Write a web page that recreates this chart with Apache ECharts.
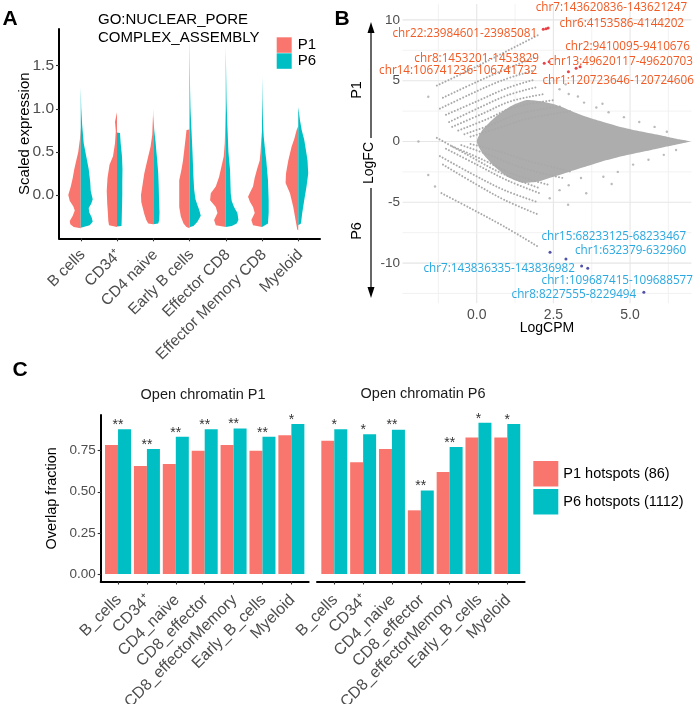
<!DOCTYPE html>
<html><head><meta charset="utf-8">
<script src="https://cdn.jsdelivr.net/npm/echarts@6/dist/echarts.min.js"></script>
<style>html,body{margin:0;padding:0;background:#fff}#c{width:700px;height:704px}</style>
</head><body><div id="c"></div>
<script>
// ================= Panel A : split violins =================
const violinCategories = ['B cells', 'CD34\u207A', 'CD4 naive', 'Early B cells', 'Effector CD8', 'Effector Memory CD8', 'Myeloid'];
const violinTicks = [0, 0.5, 1, 1.5];
// scaled-expression levels and relative densities
const p1Levels = [
  [0.78,0.65,0.5,0.4,0.3,0.2,0.1,0.0,-0.07,-0.13,-0.18,-0.24,-0.3,-0.34,-0.37,-0.385],
  [0.96,0.85,0.74,0.6,0.45,0.35,0.2,0.05,-0.1,-0.2,-0.3,-0.35,-0.37],
  [1.0,0.85,0.7,0.56,0.45,0.35,0.25,0.1,0.0,-0.08,-0.15,-0.22,-0.29,-0.33,-0.34],
  [0.76,0.755,0.65,0.52,0.4,0.3,0.17,0.06,-0.05,-0.14,-0.25,-0.33,-0.37,-0.385],
  [1.0,0.8,0.6,0.45,0.37,0.21,0.1,0.02,-0.06,-0.14,-0.21,-0.29,-0.35,-0.37],
  [0.75,0.64,0.5,0.4,0.3,0.2,0.1,0.03,-0.02,-0.08,-0.14,-0.21,-0.29,-0.35,-0.37],
  [0.8,0.75,0.65,0.56,0.4,0.25,0.14,0.02,-0.14,-0.29,-0.4,-0.41]
];
const p1Density = [
  [0,0.8,2.5,4.5,6.5,8,10,12.5,11,7.5,6,8,11,10.5,7,0],
  [0,2,1.2,2,4,7.5,9.5,10.3,9.8,9.2,8.7,8,0],
  [0,0.5,1,2.7,5,7,9,11,12.3,12,10.5,9,7,5,0],
  [0,3,4,5.3,6.5,8,10.3,10.3,10.3,10.3,8.7,6,3,0],
  [0,0.5,1,2,3.5,6.7,10,15,15.7,10,8.3,11.7,10,0],
  [0,0.7,1.5,2.3,5,7.3,9,12,14,12,9,7.3,10.7,9,0],
  [0,1.7,4,6.7,10,12.3,12.7,8.3,5,2.7,1,0]
];
const p6Levels = [
  [1.25,1.0,0.8,0.6,0.45,0.3,0.15,0.05,-0.05,-0.1,-0.15,-0.2,-0.26,-0.31,-0.35,-0.38],
  [0.725,0.72,0.6,0.45,0.3,0.15,0.0,-0.15,-0.3,-0.36,-0.365],
  [0.92,0.75,0.62,0.5,0.4,0.25,0.1,-0.05,-0.2,-0.29,-0.33,-0.34],
  [1.85,1.5,1.2,1.0,0.75,0.5,0.2,0.06,-0.05,-0.12,-0.17,-0.24,-0.31,-0.36,-0.375],
  [1.72,1.4,1.1,0.85,0.5,0.29,0.1,0.02,-0.07,-0.14,-0.21,-0.29,-0.33,-0.36,-0.37],
  [1.38,1.1,0.85,0.68,0.5,0.4,0.17,-0.06,-0.21,-0.33,-0.37],
  [1.02,0.87,0.75,0.64,0.5,0.4,0.25,0.1,-0.06,-0.21,-0.33,-0.35]
];
const p6Density = [
  [0,0.5,1.5,3,5.5,8,9.5,10,12,10.5,8,8.5,11,12,9,0],
  [0,3,3.7,5,5.5,5.3,5.3,5,4.7,4.5,0],
  [0,1,2.3,3.2,4,5,5.5,5.8,6.3,6,5,0],
  [0,0.3,0.6,1,2,3,4,4.7,6,8,9.7,11.3,8,4,0],
  [0,0.4,0.8,1.5,2.7,4.3,4.8,5,6,8.3,11.7,12.7,11,6,0],
  [0,0.4,1,1.7,3.3,4.3,6,6.7,6.7,6,0],
  [0,1.7,3.5,6,8,9.3,10,8.3,6,4,2.7,0]
];

// ================= Panel B : MA plot =================
const maTicksX = [0, 2.5, 5];
const maTicksY = [-10, -5, 0, 5, 10];
const maGridX = [-1.25, 0, 1.25, 2.5, 3.75, 5, 6.25];
const maGridY = [-12.5, -10, -7.5, -5, -2.5, 0, 2.5, 5, 7.5, 10];
// outline of the dense cloud of regions [LogCPM, LogFC]
const maCore = [[0.0,0],[0.2,1.0],[0.6,2.0],[1.1,2.9],[1.6,3.4],[2.1,3.3],[2.6,3.0],[3.0,2.6],[3.5,2.1],[4.0,1.7],[4.6,1.25],[5.2,0.9],[5.7,0.65],[6.2,0.4],[6.6,0.18],[6.95,0],[6.6,-0.2],[6.2,-0.42],[5.7,-0.7],[5.2,-0.95],[4.6,-1.3],[4.0,-1.7],[3.5,-2.1],[3.0,-2.5],[2.5,-2.9],[2.0,-3.3],[1.5,-3.4],[1.0,-2.9],[0.6,-2.1],[0.2,-1.0]];
// low-count streaks of regions
const maStreaks = [
  [[-1.3,4.6],[-0.3,5.8],[0.8,7.2],[2.0,8.75]],
  [[-1.1,3.6],[0.0,4.9],[1.0,6.0],[1.9,6.9]],
  [[-1.2,2.7],[-0.2,3.9],[0.8,5.0],[1.8,5.8]],
  [[-1.0,2.2],[0.0,3.3],[1.0,4.4],[1.9,5.1]],
  [[-0.9,1.6],[0.1,2.8],[1.0,3.8],[2.0,4.5]],
  [[-0.8,1.2],[0.2,2.3],[1.1,3.3],[2.2,3.9]],
  [[-0.6,0.9],[0.3,1.8],[1.2,2.8],[2.5,3.4]],
  [[-0.4,0.6],[0.5,1.4],[1.4,2.3],[2.8,2.9]],
  [[-0.2,0.4],[0.7,1.1],[1.7,1.9],[3.1,2.5]],
  [[-1.15,-4.25],[-0.2,-5.5],[0.9,-7.0],[2.0,-8.65]],
  [[-1.1,-1.9],[-0.1,-3.4],[0.9,-4.8],[2.0,-6.0]],
  [[-1.2,-1.2],[-0.2,-2.6],[0.9,-4.0],[2.0,-5.0]],
  [[-1.3,0.3],[-0.3,-1.1],[0.8,-2.6],[2.0,-3.8]],
  [[-1.0,-0.6],[0.0,-1.9],[1.0,-3.2],[2.1,-4.3]],
  [[-0.8,-0.4],[0.2,-1.5],[1.2,-2.7],[2.4,-3.6]],
  [[-0.5,-0.3],[0.4,-1.1],[1.4,-2.1],[2.8,-3.0]],
  [[-0.2,-0.2],[0.7,-0.8],[1.7,-1.6],[3.1,-2.5]]
];
const maScatter = [[2.38,4.8],[2.7,4.3],[3.0,3.9],[3.5,3.2],[3.9,2.8],[4.3,2.4],[4.8,2.0],[5.3,1.6],[5.8,1.2],[2.9,4.7],[3.3,3.7],[4.1,3.1],[6.2,0.8],
  [2.38,-4.67],[2.98,-5.2],[3.57,-4.26],[4.13,-2.9],[3.0,-3.6],[3.4,-3.0],[4.6,-2.5],[5.1,-1.9],[5.6,-1.5],[6.1,-1.1],[2.7,-4.0],[4.4,-3.5],[6.5,-0.7],
  [-1.9,0.0],[-1.58,3.68],[-1.58,-2.75],[-1.36,-3.7]];
const p1Hits = [[2.17,9.23],[2.33,9.33],[2.26,9.28],[2.2,6.43],[2.36,6.56],[2.99,5.74],[3.24,6.02],[3.37,6.15]];
const p1HitLabels = ['chr7:143620836-143621247','chr6:4153586-4144202','chr22:23984601-23985081','chr2:9410095-9410676','chr8:1453201-1453829','chr13:49620117-49620703','chr14:106741236-106741732','chr1:120723646-120724606'];
const p1LabelAnchors = [[6.86,11.04],[6.76,9.72],[1.97,8.9],[6.95,7.8],[2.03,6.84],[7.05,6.56],[1.97,5.82],[7.08,4.98]];
const p6Hits = [[2.39,-9.11],[2.91,-9.66],[3.42,-10.24],[3.62,-10.43],[5.45,-12.4]];
const p6HitLabels = ['chr15:68233125-68233467','chr1:632379-632960','chr7:143836335-143836982','chr1:109687415-109688577','chr8:8227555-8229494'];
const p6LabelAnchors = [[6.83,-7.83],[6.83,-9.0],[3.2,-10.43],[7.05,-11.45],[5.2,-12.62]];

// ================= Panel C : overlap bars =================
const overlapCategories = ['B_cells', 'CD34\u207A', 'CD4_naive', 'CD8_effector', 'CD8_effectorMemory', 'Early_B_cells', 'Myeloid'];
const overlapTicks = [0, 0.25, 0.5, 0.75];
const facetP1_P1hot = [0.785, 0.656, 0.669, 0.75, 0.785, 0.75, 0.844];
const facetP1_P6hot = [0.88, 0.76, 0.835, 0.88, 0.885, 0.835, 0.913];
const facetP1_stars = ['**', '**', '**', '**', '**', '**', '*'];
const facetP6_P1hot = [0.81, 0.68, 0.76, 0.387, 0.62, 0.83, 0.83];
const facetP6_P6hot = [0.88, 0.85, 0.878, 0.508, 0.772, 0.92, 0.913];
const facetP6_stars = ['*', '*', '**', '**', '**', '*', '*'];

// ================= styling =================
const RED = '#F8766D', TEAL = '#00BFC4';
const FONT = '"Liberation Sans", Arial, sans-serif';
const GRAY_TXT = '#4d4d4d';
const pos = [1,2,3,4,5,6,7];
const A_YMIN = -0.502, A_YMAX = 1.925, C_YMIN = -0.046, C_YMAX = 0.967;

function violinRender(levels, dens, side) {
  return function (params, api) {
    const i = params.dataIndex;
    const cx = api.coord([api.value(0), 0])[0];
    const k = api.size([1, 0])[0] * 0.44 / 16;
    const L = levels[i], D = dens[i];
    const pts = L.map((v, j) => [cx + side * D[j] * k, api.coord([1, v])[1]]);
    pts.push([cx, api.coord([1, L[L.length - 1]])[1]]);
    pts.push([cx, api.coord([1, L[0]])[1]]);
    return { type: 'polygon', shape: { points: pts }, style: { fill: api.visual('color') } };
  };
}
function starRender(stars) {
  return function (params, api) {
    const p = api.coord([api.value(0), api.value(1)]);
    return { type: 'text', x: p[0], y: p[1] - 4,
      style: { text: stars[params.dataIndex], fill: '#333', font: '14px ' + FONT,
        align: 'center', textAlign: 'center', verticalAlign: 'middle', textVerticalAlign: 'middle' } };
  };
}
function labelRender(texts, color) {
  return function (params, api) {
    const p = api.coord([api.value(0), api.value(1)]);
    return { type: 'text', x: p[0], y: p[1],
      style: { text: texts[params.dataIndex], fill: color, font: '11.7px "Open Sans", sans-serif',
        align: 'right', textAlign: 'right', verticalAlign: 'middle', textVerticalAlign: 'middle' } };
  };
}
// rotated category labels (45°, right end at the tick)
function tickLabelRender(names, dx, dy, size) {
  return function (params, api) {
    const p = api.coord([api.value(0), api.value(1)]);
    return { type: 'text', x: p[0] + dx, y: p[1] + dy, rotation: Math.PI / 4,
      style: { text: names[params.dataIndex], fill: GRAY_TXT, font: size + 'px ' + FONT,
        align: 'right', textAlign: 'right', verticalAlign: 'middle', textVerticalAlign: 'middle' } };
  };
}
function catAxis(gridIndex) {
  return {
    type: 'value', gridIndex, min: 0.4, max: 7.6,
    axisLine: { show: true, onZero: false, lineStyle: { color: '#000', width: 2 } },
    axisTick: { show: true, customValues: pos, length: 3, lineStyle: { color: '#333', width: 1.1 } },
    axisLabel: { show: false },
    splitLine: { show: false }
  };
}

const chart = echarts.init(document.getElementById('c'), null, { renderer: 'canvas' });
chart.setOption({
  animation: false,
  backgroundColor: '#fff',
  textStyle: { fontFamily: FONT },
  grid: [
    { left: 59, top: 29, width: 261, height: 209.3 },
    { left: 402.5, top: 4.1, width: 288.9, height: 299.1 },
    { left: 100.7, top: 415, width: 208, height: 166.5 },
    { left: 317, top: 415, width: 207.6, height: 166.5 }
  ],
  xAxis: [
    catAxis(0),
    { type: 'value', gridIndex: 1, min: -2.42, max: 7.0,
      axisLine: { show: false, onZero: false }, axisTick: { show: false }, splitLine: { show: false },
      axisLabel: { customValues: maTicksX, formatter: v => v.toFixed(1), fontSize: 14, color: GRAY_TXT, margin: 5 },
      name: 'LogCPM', nameLocation: 'middle', nameGap: 18, nameMoveOverlap: false, nameTextStyle: { fontSize: 14, color: '#000' } },
    catAxis(2),
    catAxis(3)
  ],
  yAxis: [
    { type: 'value', gridIndex: 0, min: A_YMIN, max: A_YMAX,
      axisLine: { show: true, onZero: false, lineStyle: { color: '#000', width: 2 } },
      axisTick: { show: true, customValues: violinTicks, length: 3, lineStyle: { color: '#333', width: 1.1 } },
      axisLabel: { customValues: violinTicks, formatter: v => v.toFixed(1), fontSize: 15.5, color: GRAY_TXT, margin: 5 },
      splitLine: { show: false },
      name: 'Scaled expression', nameLocation: 'middle', nameGap: 27, nameMoveOverlap: false, nameTextStyle: { fontSize: 15, color: '#000' } },
    { type: 'value', gridIndex: 1, min: -13.3, max: 11.3,
      axisLine: { show: false, onZero: false }, axisTick: { show: false }, splitLine: { show: false },
      axisLabel: { customValues: maTicksY, fontSize: 13.5, color: GRAY_TXT, margin: 2.5 } },
    { type: 'value', gridIndex: 2, min: C_YMIN, max: C_YMAX,
      axisLine: { show: true, onZero: false, lineStyle: { color: '#000', width: 2 } },
      axisTick: { show: true, customValues: overlapTicks, length: 3, lineStyle: { color: '#333', width: 1.1 } },
      axisLabel: { customValues: overlapTicks, formatter: v => v.toFixed(2), fontSize: 13.5, color: GRAY_TXT, margin: 5 },
      splitLine: { show: false },
      name: 'Overlap fraction', nameLocation: 'middle', nameGap: 41, nameMoveOverlap: false, nameTextStyle: { fontSize: 14.5, color: '#000' } },
    { type: 'value', gridIndex: 3, min: C_YMIN, max: C_YMAX, show: false, axisLine: { onZero: false } }
  ],
  legend: [
    { data: ['P1', 'P6'], orient: 'vertical', left: 276.7, top: 37.3, itemWidth: 15, itemHeight: 15.5, itemGap: 0.5,
      padding: 0, icon: 'rect', selectedMode: false, textStyle: { fontSize: 15, color: '#000', padding: [0, 0, 0, 1] } },
    { data: ['P1 hotspots (86)', 'P6 hotspots (1112)'], orient: 'vertical', left: 533.3, top: 461, itemWidth: 25, itemHeight: 25.5,
      itemGap: 2.5, padding: 0, icon: 'rect', selectedMode: false, textStyle: { fontSize: 14.5, color: '#000' } }
  ],
  series: [
    // ---- A
    { type: 'custom', name: 'P1', xAxisIndex: 0, yAxisIndex: 0, itemStyle: { color: RED },
      data: pos.map(p => [p, 0]), encode: { x: 0, y: 1 }, renderItem: violinRender(p1Levels, p1Density, -1) },
    { type: 'custom', name: 'P6', xAxisIndex: 0, yAxisIndex: 0, itemStyle: { color: TEAL },
      data: pos.map(p => [p, 0]), encode: { x: 0, y: 1 }, renderItem: violinRender(p6Levels, p6Density, 1) },
    { type: 'custom', xAxisIndex: 0, yAxisIndex: 0, silent: true, clip: false,
      data: pos.map(p => [p, A_YMIN]), encode: { x: 0, y: 1 }, renderItem: tickLabelRender(violinCategories, 2, 14, 15.5) },
    // ---- B grid lines
    { type: 'custom', xAxisIndex: 1, yAxisIndex: 1, z: 0, silent: true, clip: false,
      data: maGridX.map(v => [v, 0]), encode: { x: 0, y: 1 },
      renderItem: (params, api) => {
        const x = api.coord([api.value(0), 0])[0]; const cs = params.coordSys;
        const major = maTicksX.indexOf(api.value(0)) >= 0;
        return { type: 'line', shape: { x1: x, y1: cs.y, x2: x, y2: cs.y + cs.height },
          style: { stroke: major ? '#e6e6e6' : '#efefef', lineWidth: major ? 1.1 : 0.8 } };
      } },
    { type: 'custom', xAxisIndex: 1, yAxisIndex: 1, z: 0, silent: true, clip: false,
      data: maGridY.map(v => [0, v]), encode: { x: 0, y: 1 },
      renderItem: (params, api) => {
        const y = api.coord([0, api.value(1)])[1]; const cs = params.coordSys;
        const major = maTicksY.indexOf(api.value(1)) >= 0;
        return { type: 'line', shape: { x1: cs.x, y1: y, x2: cs.x + cs.width, y2: y },
          style: { stroke: major ? '#e6e6e6' : '#efefef', lineWidth: major ? 1.1 : 0.8 } };
      } },
    // ---- B dense cloud
    { type: 'custom', xAxisIndex: 1, yAxisIndex: 1, z: 1, silent: true,
      data: [[0, 0]], encode: { x: 0, y: 1 },
      renderItem: (params, api) => ({ type: 'polygon', shape: { points: maCore.map(p => api.coord(p)), smooth: 0.2 },
        style: { fill: '#adadad' } }) },
    // ---- B streaks
    { type: 'custom', xAxisIndex: 1, yAxisIndex: 1, z: 1, silent: true,
      data: maStreaks.map(s => s[0]), encode: { x: 0, y: 1 },
      renderItem: (params, api) => ({ type: 'polyline',
        shape: { points: maStreaks[params.dataIndex].map(p => api.coord(p)), smooth: 0.35 },
        style: { stroke: '#a9a9a9', lineWidth: 2, lineDash: [0.01, 3.2], lineCap: 'round', fill: null } }) },
    { type: 'scatter', xAxisIndex: 1, yAxisIndex: 1, z: 2, silent: true, symbolSize: 2.4,
      itemStyle: { color: '#a9a9a9' }, data: maScatter },
    { type: 'scatter', xAxisIndex: 1, yAxisIndex: 1, z: 3, silent: true, symbolSize: 3,
      itemStyle: { color: '#e3141b' }, data: p1Hits },
    { type: 'scatter', xAxisIndex: 1, yAxisIndex: 1, z: 3, silent: true, symbolSize: 3,
      itemStyle: { color: '#262694' }, data: p6Hits },
    { type: 'custom', xAxisIndex: 1, yAxisIndex: 1, z: 4, silent: true, clip: false,
      data: p1LabelAnchors, encode: { x: 0, y: 1 }, renderItem: labelRender(p1HitLabels, '#F15A24') },
    { type: 'custom', xAxisIndex: 1, yAxisIndex: 1, z: 4, silent: true, clip: false,
      data: p6LabelAnchors, encode: { x: 0, y: 1 }, renderItem: labelRender(p6HitLabels, '#29A8E0') },
    // ---- C bars
    { type: 'bar', name: 'P1 hotspots (86)', xAxisIndex: 2, yAxisIndex: 2, barGap: '0%', barCategoryGap: '10%',
      itemStyle: { color: RED }, data: facetP1_P1hot.map((v, i) => [pos[i], v]) },
    { type: 'bar', name: 'P6 hotspots (1112)', xAxisIndex: 2, yAxisIndex: 2, barGap: '0%', barCategoryGap: '10%',
      itemStyle: { color: TEAL }, data: facetP1_P6hot.map((v, i) => [pos[i], v]) },
    { type: 'bar', name: 'P1 hotspots (86)', xAxisIndex: 3, yAxisIndex: 3, barGap: '0%', barCategoryGap: '10%',
      itemStyle: { color: RED }, data: facetP6_P1hot.map((v, i) => [pos[i], v]) },
    { type: 'bar', name: 'P6 hotspots (1112)', xAxisIndex: 3, yAxisIndex: 3, barGap: '0%', barCategoryGap: '10%',
      itemStyle: { color: TEAL }, data: facetP6_P6hot.map((v, i) => [pos[i], v]) },
    { type: 'custom', xAxisIndex: 2, yAxisIndex: 2, z: 5, silent: true, clip: false,
      data: facetP1_P1hot.map((v, i) => [pos[i], Math.max(v, facetP1_P6hot[i])]), encode: { x: 0, y: 1 },
      renderItem: starRender(facetP1_stars) },
    { type: 'custom', xAxisIndex: 3, yAxisIndex: 3, z: 5, silent: true, clip: false,
      data: facetP6_P1hot.map((v, i) => [pos[i], Math.max(v, facetP6_P6hot[i])]), encode: { x: 0, y: 1 },
      renderItem: starRender(facetP6_stars) },
    { type: 'custom', xAxisIndex: 2, yAxisIndex: 2, silent: true, clip: false,
      data: pos.map(p => [p, C_YMIN]), encode: { x: 0, y: 1 }, renderItem: tickLabelRender(overlapCategories, 1, 16, 16) },
    { type: 'custom', xAxisIndex: 3, yAxisIndex: 3, silent: true, clip: false,
      data: pos.map(p => [p, C_YMIN]), encode: { x: 0, y: 1 }, renderItem: tickLabelRender(overlapCategories, 1, 16, 16) }
  ],
  graphic: { elements: [
    { type: 'text', x: 10, y: 19.5, style: { text: 'A', font: 'bold 21px ' + FONT, fill: '#000', align: 'center', verticalAlign: 'middle' } },
    { type: 'text', x: 342, y: 19.5, style: { text: 'B', font: 'bold 21px ' + FONT, fill: '#000', align: 'center', verticalAlign: 'middle' } },
    { type: 'text', x: 20, y: 370.5, style: { text: 'C', font: 'bold 21px ' + FONT, fill: '#000', align: 'center', verticalAlign: 'middle' } },
    { type: 'text', x: 98, y: 20, style: { text: 'GO:NUCLEAR_PORE', font: '15px ' + FONT, fill: '#000', align: 'left', verticalAlign: 'middle' } },
    { type: 'text', x: 98, y: 38.3, style: { text: 'COMPLEX_ASSEMBLY', font: '15px ' + FONT, fill: '#000', align: 'left', verticalAlign: 'middle' } },
    { type: 'text', x: 203, y: 395, style: { text: 'Open chromatin P1', font: '14.5px ' + FONT, fill: '#1a1a1a', align: 'center', verticalAlign: 'middle' } },
    { type: 'text', x: 423, y: 393.5, style: { text: 'Open chromatin P6', font: '14.5px ' + FONT, fill: '#1a1a1a', align: 'center', verticalAlign: 'middle' } },
    { type: 'text', x: 369, y: 163, rotation: Math.PI / 2, style: { text: 'LogFC', font: '14px ' + FONT, fill: '#000', align: 'center', verticalAlign: 'middle' } },
    { type: 'text', x: 357, y: 90, rotation: Math.PI / 2, style: { text: 'P1', font: '14.5px ' + FONT, fill: '#000', align: 'center', verticalAlign: 'middle' } },
    { type: 'text', x: 357, y: 231, rotation: Math.PI / 2, style: { text: 'P6', font: '14.5px ' + FONT, fill: '#000', align: 'center', verticalAlign: 'middle' } },
    { type: 'line', shape: { x1: 371, y1: 138, x2: 371, y2: 30 }, style: { stroke: '#000', lineWidth: 1.2 } },
    { type: 'polygon', shape: { points: [[371, 22], [367.5, 33], [374.5, 33]] }, style: { fill: '#000' } },
    { type: 'line', shape: { x1: 371, y1: 188, x2: 371, y2: 290 }, style: { stroke: '#000', lineWidth: 1.2 } },
    { type: 'polygon', shape: { points: [[371, 298], [367.5, 287], [374.5, 287]] }, style: { fill: '#000' } }
  ] }
});
</script></body></html>
